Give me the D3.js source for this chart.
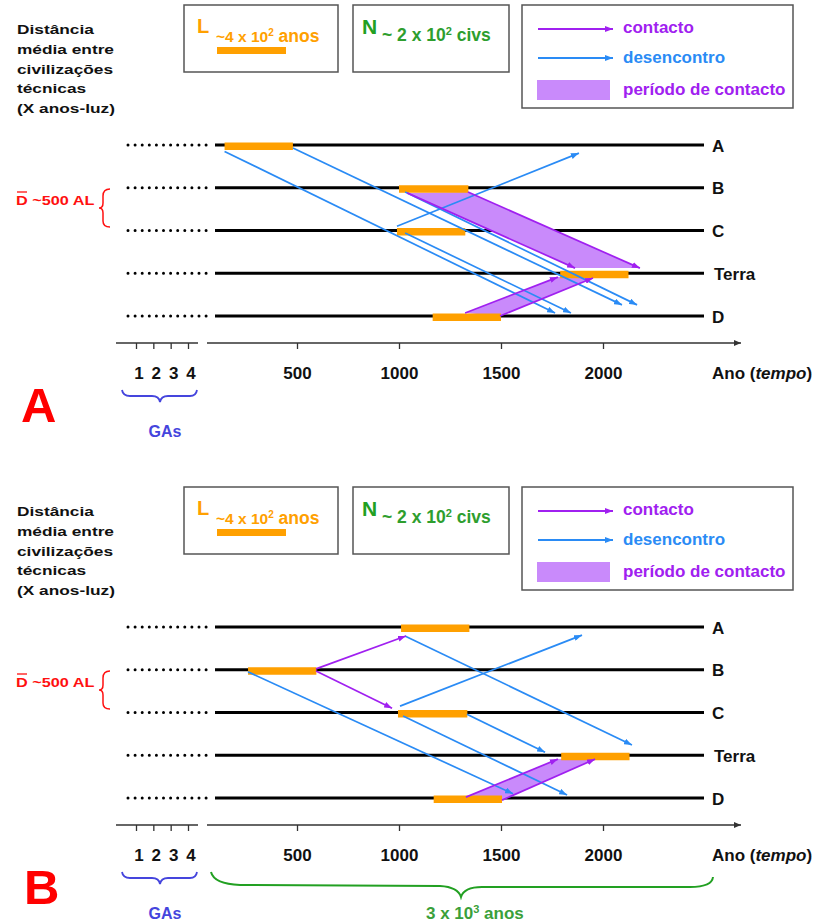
<!DOCTYPE html>
<html><head><meta charset="utf-8">
<script src="https://cdn.jsdelivr.net/npm/d3@7"></script>
<style>
body{margin:0;background:#fff}
svg{display:block}
text{font-family:"Liberation Sans",Arial,sans-serif;font-weight:bold}
</style>
</head><body>
<svg id="c" width="818" height="923"></svg>
<script>
// ---------- data ----------
const rowNames = ["A", "B", "C", "Terra", "D"];
const yearTicks = [500, 1000, 1500, 2000];
const gaTicks = [1, 2, 3, 4];
const titleLines = ["Distância", "média entre", "civilizações", "técnicas", "(X anos-luz)"];
const legendLabels = ["contacto", "desencontro", "período de contacto"];

// civilisation active periods [startYear, endYear] per row (A, B, C, Terra, D)
const barsA = [[145, 480], [1000, 1340], [990, 1325], [1790, 2125], [1165, 1500]];
const barsB = [[1010, 1345], [260, 595], [995, 1335], [1795, 2130], [1170, 1505]];

// signals: [fromYear, fromRow, toYear, toRow]
const contactoA = [[1040, 1.12, 1863, 2.88], [1338, 1.10, 2181, 2.88], [1324, 3.93, 1779, 3.09], [1495, 4.00, 1951, 3.11]];
const bandsA = [[0, 1], [2, 3]];
const desencontroA = [[145, 0.15, 1765, 3.93], [480, 0.07, 2093, 3.74], [1030, 1.10, 2167, 3.74], [1030, 2.06, 1843, 3.93], [990, 1.90, 1882, 0.19]];

const contactoB = [[593, 0.98, 1034, 0.21], [593, 1.03, 966, 1.90], [1328, 3.98, 1779, 3.09], [1505, 4.05, 1961, 3.09]];
const bandsB = [[2, 3]];
const desencontroB = [[260, 1.05, 1559, 3.90], [1029, 0.21, 2142, 2.76], [1005, 1.85, 1897, 0.19], [1333, 2.04, 1716, 2.93], [1020, 2.08, 1824, 3.93]];

// ---------- styles ----------
const C = {
  orange: "#FFA000", blue: "#2A8BF5", purple: "#A020F0", fill: "#C98AFB",
  green: "#22A022", red: "#FF1010", gaBlue: "#4545DD", axis: "#333"
};

const svg = d3.select("#c");
const defs = svg.append("defs");
function marker(id, color, w, h) {
  defs.append("marker").attr("id", id)
    .attr("viewBox", `0 0 ${w} ${h}`).attr("refX", w).attr("refY", h / 2)
    .attr("markerWidth", w).attr("markerHeight", h)
    .attr("markerUnits", "userSpaceOnUse").attr("orient", "auto")
    .append("path").attr("d", `M0,0L${w},${h / 2}L0,${h}Z`).attr("fill", color);
}
marker("mBlue", C.blue, 8, 6);
marker("mPurple", C.purple, 8, 6);
marker("mAxis", C.axis, 7, 6);

const x = d3.scaleLinear().domain([0, 2000]).range([195, 603]);
const ga = d3.scaleLinear().domain([1, 4]).range([136, 188]);
const ROW_TOP = 145;
const y = d3.scaleLinear().domain([0, 4]).range([ROW_TOP, ROW_TOP + 171]);

function drawPanel(dy, letter, bars, contacto, bands, desencontro) {
  const g = svg.append("g").attr("transform", `translate(0,${dy})`);

  // title block
  titleLines.forEach((t, i) => {
    g.append("text").attr("transform", `translate(17,${34 + i * 19.8}) scale(1.33,1)`)
      .attr("font-size", 13).attr("fill", "#111").text(t);
  });

  // legend boxes
  const box = (x0, y0, w, h) => g.append("rect").attr("x", x0).attr("y", y0).attr("width", w).attr("height", h)
    .attr("fill", "#fff").attr("stroke", "#555").attr("stroke-width", 1.5);
  box(184, 5, 154, 67);
  box(353, 5, 156, 67);
  box(522, 5, 271, 103);

  g.append("text").attr("x", 197).attr("y", 33).attr("font-size", 20).attr("fill", C.orange).text("L");
  const tL = g.append("text").attr("x", 216).attr("y", 42).attr("fill", C.orange);
  tL.append("tspan").attr("font-size", 15.5).text("~4 x 10");
  tL.append("tspan").attr("font-size", 10).attr("dy", -6).text("2");
  tL.append("tspan").attr("font-size", 17.5).attr("dy", 6).text(" anos");
  g.append("rect").attr("x", 217).attr("y", 47).attr("width", 69).attr("height", 7).attr("fill", C.orange);

  g.append("text").attr("x", 362).attr("y", 34).attr("font-size", 21).attr("fill", C.green).text("N");
  const tN = g.append("text").attr("x", 382).attr("y", 41).attr("fill", "#2E9E2E");
  tN.append("tspan").attr("font-size", 17.5).text("~ 2 x 10");
  tN.append("tspan").attr("font-size", 11).attr("dy", -6).text("2");
  tN.append("tspan").attr("font-size", 17.5).attr("dy", 6).text(" civs");

  g.append("line").attr("x1", 538).attr("x2", 613).attr("y1", 29).attr("y2", 29)
    .attr("stroke", C.purple).attr("stroke-width", 2).attr("marker-end", "url(#mPurple)");
  g.append("line").attr("x1", 538).attr("x2", 613).attr("y1", 58).attr("y2", 58)
    .attr("stroke", C.blue).attr("stroke-width", 2).attr("marker-end", "url(#mBlue)");
  g.append("rect").attr("x", 537).attr("y", 80).attr("width", 73).attr("height", 20).attr("fill", C.fill);
  g.append("text").attr("x", 623).attr("y", 33).attr("font-size", 17).attr("fill", C.purple).text(legendLabels[0]);
  g.append("text").attr("x", 623).attr("y", 63).attr("font-size", 17).attr("fill", C.blue).text(legendLabels[1]);
  g.append("text").attr("x", 623).attr("y", 95).attr("font-size", 17).attr("fill", C.purple).text(legendLabels[2]);

  // mean distance label + brace
  g.append("text").attr("transform", "translate(16,205) scale(1.25,1)")
    .attr("font-size", 13).attr("fill", C.red).text("D ~500 AL");
  g.append("line").attr("x1", 17).attr("x2", 27).attr("y1", 192).attr("y2", 192).attr("stroke", C.red).attr("stroke-width", 1.3);
  g.append("path").attr("d", "M110,189 Q103,189 103,196 L103,203 Q103,208 99,208 Q103,208 103,213 L103,221 Q103,227 110,227")
    .attr("fill", "none").attr("stroke", C.red).attr("stroke-width", 1.5);

  // rows
  rowNames.forEach((r, i) => {
    g.append("line").attr("x1", 128).attr("x2", 213).attr("y1", y(i)).attr("y2", y(i))
      .attr("stroke", "#000").attr("stroke-width", 3).attr("stroke-linecap", "round").attr("stroke-dasharray", "0 7.1");
    g.append("line").attr("x1", 215).attr("x2", 704).attr("y1", y(i)).attr("y2", y(i))
      .attr("stroke", "#000").attr("stroke-width", 3);
    g.append("text").attr("x", r === "Terra" ? 714 : 712).attr("y", y(i) + 6.5)
      .attr("font-size", 17).attr("fill", "#111").text(r);
  });

  // contact period bands
  g.selectAll(".band").data(bands).enter().append("polygon")
    .attr("points", ([a, b]) => {
      const p = contacto[a], q = contacto[b];
      return [[x(p[0]), y(p[1])], [x(q[0]), y(q[1])], [x(q[2]), y(q[3])], [x(p[2]), y(p[3])]].map(d => d.join(",")).join(" ");
    })
    .attr("fill", C.fill);

  // civilisation lifetime bars
  g.selectAll(".bar").data(bars).enter().append("rect")
    .attr("x", d => x(d[0])).attr("width", d => x(d[1]) - x(d[0]))
    .attr("y", (d, i) => y(i) - 2.5).attr("height", 7.5).attr("fill", C.orange);

  // signal arrows
  const arrows = (data, color, m) => g.selectAll(null).data(data).enter().append("line")
    .attr("x1", d => x(d[0])).attr("y1", d => y(d[1]))
    .attr("x2", d => x(d[2])).attr("y2", d => y(d[3]))
    .attr("stroke", color).attr("stroke-width", 1.7).attr("marker-end", `url(#${m})`);
  arrows(desencontro, C.blue, "mBlue");
  arrows(contacto, C.purple, "mPurple");

  // time axis
  const AXY = 343;
  const ax = g.append("g").attr("transform", `translate(0,${AXY})`)
    .call(d3.axisBottom(x).tickValues(yearTicks).tickSize(6).tickFormat(d3.format("d")));
  ax.select(".domain").remove();
  ax.selectAll("line").attr("stroke", C.axis).attr("stroke-width", 1.3);
  ax.selectAll("text").attr("font-size", 17).attr("fill", "#111").attr("y", 36).attr("dy", null);
  g.append("line").attr("x1", 207).attr("x2", 741).attr("y1", AXY).attr("y2", AXY)
    .attr("stroke", C.axis).attr("stroke-width", 1.5).attr("marker-end", "url(#mAxis)");
  g.append("text").attr("x", 712).attr("y", AXY + 36).attr("font-size", 17).attr("fill", "#111")
    .call(t => { t.append("tspan").text("Ano ("); t.append("tspan").attr("font-style", "italic").text("tempo"); t.append("tspan").text(")"); });

  // GA axis
  const gax = g.append("g").attr("transform", `translate(0,${AXY})`)
    .call(d3.axisBottom(ga).tickValues(gaTicks).tickSize(6).tickFormat(d3.format("d")));
  gax.select(".domain").remove();
  gax.selectAll("line").attr("stroke", C.axis).attr("stroke-width", 1.3);
  gax.selectAll("text").attr("font-size", 17).attr("fill", "#111").attr("y", 36).attr("dy", null).attr("dx", 2.5);
  g.append("line").attr("x1", 116).attr("x2", 198).attr("y1", AXY).attr("y2", AXY).attr("stroke", C.axis).attr("stroke-width", 1.5);

  // GAs brace
  g.append("path").attr("d", "M122,390 Q123,396 130,396 L152,396 Q159,396 160,402 Q161,396 168,396 L190,396 Q196,396 197,390")
    .attr("fill", "none").attr("stroke", C.gaBlue).attr("stroke-width", 1.8);
  g.append("text").attr("x", 165).attr("y", 437).attr("text-anchor", "middle").attr("font-size", 16).attr("fill", C.gaBlue).text("GAs");

  // panel letter
  g.append("text").attr("x", letter === "A" ? 21 : 24).attr("y", 422).attr("font-size", 49).attr("fill", "#FF0000").text(letter);
  return g;
}

drawPanel(0, "A", barsA, contactoA, bandsA, desencontroA);
const gB = drawPanel(482, "B", barsB, contactoB, bandsB, desencontroB);

// 3 x 10^3 years brace (panel B)
gB.append("path").attr("d", "M211,390 Q214,402 240,403 L440,404 Q458,405 461,415 Q464,405 482,405 L690,405 Q712,405 713,395")
  .attr("fill", "none").attr("stroke", C.green).attr("stroke-width", 2);
const t3 = gB.append("text").attr("x", 426).attr("y", 437).attr("fill", "#3AA03A");
t3.append("tspan").attr("font-size", 17).text("3 x 10");
t3.append("tspan").attr("font-size", 11).attr("dy", -6).text("3");
t3.append("tspan").attr("font-size", 17).attr("dy", 6).text(" anos");
</script>
</body></html>
